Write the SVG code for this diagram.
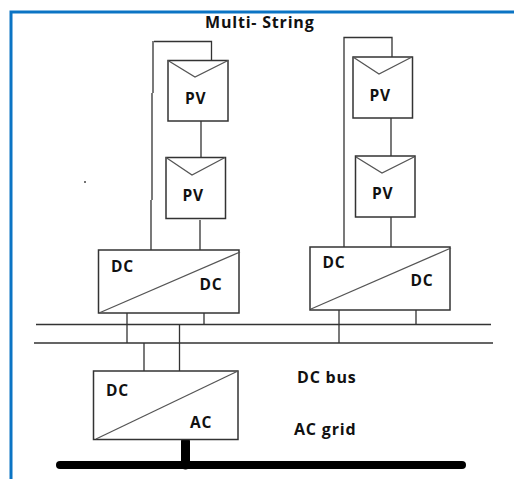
<svg xmlns="http://www.w3.org/2000/svg" width="514" height="479" viewBox="0 0 514 479">
<style>
.w{fill:none;stroke:#333;stroke-width:1.3}
.b{fill:#fff;stroke:#333;stroke-width:1.5}
.c{fill:none;stroke:#555;stroke-width:1.3}
text{font-family:"Open Sans","DejaVu Sans",sans-serif;font-weight:700;font-size:15.500px;letter-spacing:.8px;fill:#111}
.l{font-size:16px;letter-spacing:.8px}
</style>
<rect width="514" height="479" fill="#fff"/>
<path d="M11 479V12H514" fill="none" stroke="#0b74c4" stroke-width="3"/>
<circle cx="85" cy="182" r="1" fill="#444"/>
<g id="connectors">
<path class="w" d="M153 41V93M152 93V200M151 200V250M154 41.500H211.500V60"/>
<path class="w" d="M201 121V157M200 220V250"/>
<path class="w" d="M344 250V37.500H392V57M391 118V156M391 217V247"/>
<path class="w" d="M127 313V343M204 313V325M339 310V343M416 310V324.500"/>
<path class="w" d="M36 324.500H491M34 343H493"/>
<path class="w" d="M144 343V371M179.500 324.500V371"/>
<path d="M185.500 441V465" fill="none" stroke="#000" stroke-width="9" stroke-linecap="round"/>
<path d="M60 465H462" fill="none" stroke="#000" stroke-width="8" stroke-linecap="round"/>
</g>
<g id="pv1"><rect class="b" x="168" y="60.500" width="60" height="60.500"/><path class="c" d="M168 60.500L195 77L228 60.500"/><text x="185" y="104">PV</text></g>
<g id="pv2"><rect class="b" x="166" y="157.500" width="59.500" height="61"/><path class="c" d="M166 157.500L192 175L225 157.500"/><text x="182.500" y="201">PV</text></g>
<g id="pv3"><rect class="b" x="353" y="57" width="59.500" height="61"/><path class="c" d="M353 57L379 74L412 57"/><text x="369.500" y="101">PV</text></g>
<g id="pv4"><rect class="b" x="355.500" y="156" width="59.500" height="61"/><path class="c" d="M356 157L382 173L414 157"/><text x="372" y="199">PV</text></g>
<g id="dcdc1"><rect class="b" x="98.500" y="250" width="140.500" height="63"/><path class="c" d="M99 313L240 252"/><text x="111" y="272">DC</text><text x="199.500" y="290">DC</text></g>
<g id="dcdc2"><rect class="b" x="310" y="247" width="140" height="63"/><path class="c" d="M311 309L451 248"/><text x="322.500" y="268">DC</text><text x="410.500" y="286">DC</text></g>
<g id="dcac"><rect class="b" x="93.500" y="371" width="144.500" height="68.500"/><path class="c" d="M96 439L238 371"/><text x="106" y="396">DC</text><text x="190" y="428">AC</text></g>
<g id="labels">
<text class="l" x="205" y="28">Multi- String</text>
<text class="l" x="297" y="383">DC bus</text>
<text class="l" x="294" y="435">AC grid</text>
</g>
</svg>
